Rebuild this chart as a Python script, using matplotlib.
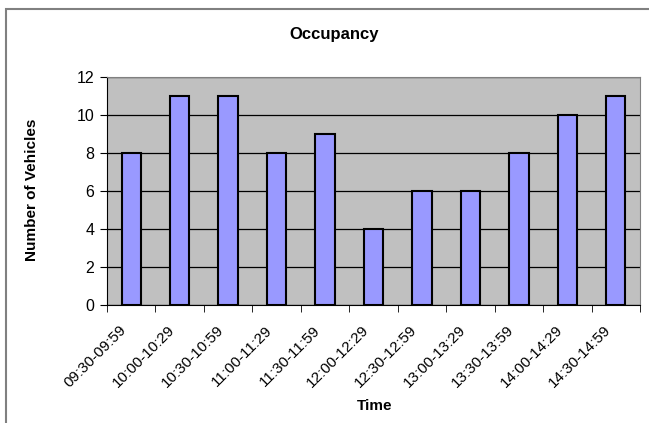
import numpy as np
import matplotlib
matplotlib.use("Agg")
import matplotlib.pyplot as plt
from matplotlib.patches import Rectangle
from matplotlib.transforms import ScaledTranslation

plt.rcParams['font.family'] = ['Liberation Sans', 'DejaVu Sans']

time_slots = [
    "09:30-09:59", "10:00-10:29", "10:30-10:59", "11:00-11:29",
    "11:30-11:59", "12:00-12:29", "12:30-12:59", "13:00-13:29",
    "13:30-13:59", "14:00-14:29", "14:30-14:59",
]
vehicles = [8, 11, 11, 8, 9, 4, 6, 6, 8, 10, 11]

fig = plt.figure(figsize=(6.49, 4.23), dpi=100)
W, H = 649, 423
ax = fig.add_axes([107 / W, 1 - 305 / H, (640 - 107) / W, (305 - 77) / H])

x = np.arange(len(time_slots))
ax.set_facecolor("#C0C0C0")
ax.bar(x, vehicles, width=0.4, color="#9999FF", edgecolor="black",
       linewidth=1.5, zorder=3)

ax.set_xlim(-0.5, len(time_slots) - 0.5)
ax.set_ylim(0, 12)
ax.set_yticks(range(0, 13, 2))
ax.grid(axis="y", color="black", linewidth=0.9, zorder=1)

# tick marks at category boundaries, labels at centres (Excel style)
ax.set_xticks(x)
ax.set_xticklabels(time_slots, rotation=45, ha="right", rotation_mode="anchor",
                   fontsize=11)
ax.set_xticks(np.arange(-0.5, len(time_slots)), minor=True)
ax.tick_params(axis="x", which="major", length=0, pad=13)
ax.tick_params(axis="x", which="minor", length=5, color="black")
ax.tick_params(axis="y", length=5, color="black", labelsize=11.5, pad=4)
off = ScaledTranslation(-12 / 100, 0, fig.dpi_scale_trans)
for lab in ax.get_xticklabels():
    lab.set_transform(lab.get_transform() + off)

for side in ["top", "right"]:
    ax.spines[side].set_color("#808080")
for side in ["left", "bottom"]:
    ax.spines[side].set_color("black")

fig.text(334 / W, 1 - 35 / H, "Occupancy", ha="center", va="center",
         fontsize=12, fontweight="bold")
fig.text(375 / W, 1 - 406 / H, "Time", ha="center", va="center",
         fontsize=11, fontweight="bold")
fig.text(32 / W, 1 - 190 / H, "Number of Vehicles", ha="center", va="center",
         rotation=90, fontsize=11, fontweight="bold")

# chart area border (runs off the right and bottom edges)
fig.patches.append(Rectangle((6 / W, -0.1), 1.2, 1.1 - 9 / H,
                             transform=fig.transFigure, fill=False,
                             edgecolor="#808080", linewidth=1.5))

fig.savefig("out.png", dpi=100)
